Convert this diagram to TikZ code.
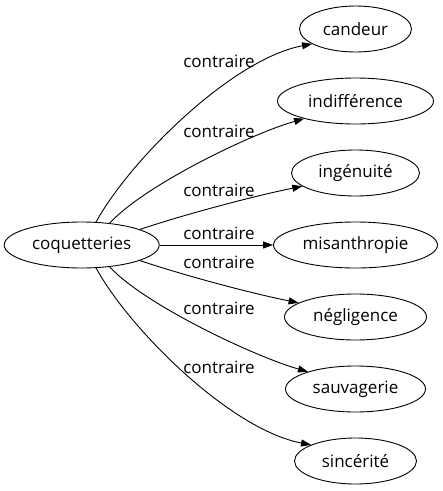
\documentclass[tikz,border=0pt]{standalone}
\usepackage{fontspec}
\setmainfont{Open Sans}
\usetikzlibrary{shapes.geometric,arrows.meta}
\tikzset{
  ell/.style={draw, ellipse, inner sep=0pt, minimum height=46pt, line width=0.9pt, font=\fontsize{17}{20}\selectfont},
  lab/.style={inner sep=0pt, font=\fontsize{17}{20}\selectfont},
  edge/.style={line width=0.9pt, -{Triangle[length=10pt,width=7pt]}}
}
\begin{document}
\begin{tikzpicture}[x=1pt,y=-1pt]
\useasboundingbox (0,0) rectangle (443,491);
\node[ell, minimum width=155pt] (src) at (81.7,245) {coquetteries};
\node[ell, minimum width=112pt] (n1) at (355.5,29) {candeur};
\node[ell, minimum width=156pt] (n2) at (355.5,101) {indifférence};
\node[ell, minimum width=128pt] (n3) at (355.5,173) {ingénuité};
\node[ell, minimum width=164pt] (n4) at (355.5,245) {misanthropie};
\node[ell, minimum width=142pt] (n5) at (355.5,317) {négligence};
\node[ell, minimum width=140pt] (n6) at (355.5,389) {sauvagerie};
\node[ell, minimum width=122pt] (n7) at (355.5,461) {sincérité};
\node[lab] (l1) at (219,61) {contraire};
\node[lab] (l2) at (219,131) {contraire};
\node[lab] (l3) at (219,190) {contraire};
\node[lab] (l4) at (219,233) {contraire};
\node[lab] (l5) at (219,262) {contraire};
\node[lab] (l6) at (219,308) {contraire};
\node[lab] (l7) at (219,367) {contraire};
\draw[edge] (src.58.7) .. controls +(34,-62) and +(-80,15) .. (n1.199.4);
\draw[edge] (src.38) .. controls +(35,-38) and +(-53,15) .. (n2.199.9);
\draw[edge] (src.15.8) .. controls +(48,-16) and +(-45,9) .. (n3.194);
\draw[edge] (src.0) -- (n4.180);
\draw[edge] (src.-15.8) .. controls +(48,16) and +(-45,-9) .. (n5.166.3);
\draw[edge] (src.-38) .. controls +(35,38) and +(-53,-15) .. (n6.160.4);
\draw[edge] (src.-58.7) .. controls +(34,62) and +(-80,-15) .. (n7.160.7);
\end{tikzpicture}
\end{document}
